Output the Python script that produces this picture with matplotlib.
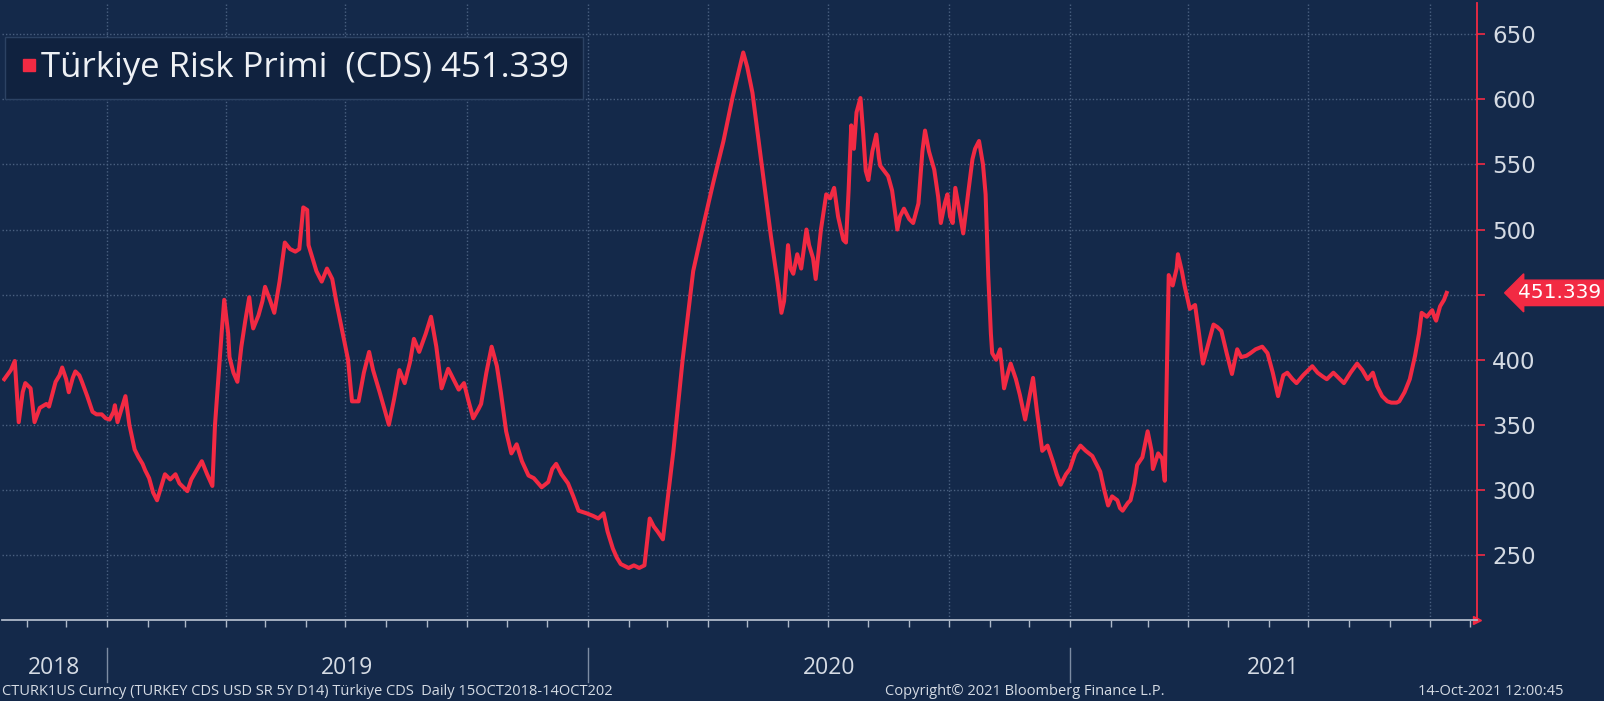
import pandas as pd
import matplotlib
matplotlib.use("Agg")
import matplotlib.pyplot as plt
import matplotlib.dates as mdates
import matplotlib.transforms as mtransforms
from matplotlib.lines import Line2D

# Türkiye 5Y CDS, okunan değerler (15 Ekim 2018'den itibaren gün sayısı)
baslangic = pd.Timestamp("2018-10-15")
gun = [0, 5, 8, 11, 14, 16, 20, 23, 27, 32, 34, 39, 42, 44, 47, 49, 52, 54, 57, 59,
       63, 67, 70, 74, 77, 80, 83, 84, 86, 89, 92, 95, 99, 102, 105, 107, 110, 113, 116, 119,
       122, 126, 130, 133, 139, 142, 146, 150, 154, 158, 160, 163, 165, 167, 170, 171, 174, 177, 180, 183,
       186, 188, 189, 193, 196, 198, 202, 205, 209, 213, 217, 221, 224, 227, 230, 231, 234, 237, 241,
       245, 249, 252, 256, 261, 264, 269, 273, 277, 280, 285, 292, 296, 300, 304, 308, 311, 315, 320,
       324, 328, 332, 337, 341, 345, 349, 352, 356, 360, 362, 366, 370, 374, 377,
       381, 385, 389, 393, 398, 402, 408, 413, 416, 419, 423, 428, 432, 436, 442, 447, 451, 455, 458,
       462, 465, 468, 474, 478, 482, 486, 490, 493, 496, 500, 508, 515, 523, 530, 538, 546, 553, 561,
       564, 568, 574, 582, 587, 590, 592, 595, 597, 599, 601, 602, 605, 609, 611, 614, 616, 620, 624,
       627, 630, 633, 637, 639, 641, 643, 645, 647, 650, 652, 654, 656, 659, 662, 664, 665, 668, 671,
       674, 678, 680, 683, 687, 690, 694, 697, 699, 702, 706, 709, 711, 714, 716, 718, 720, 722, 725,
       728, 732, 735, 737, 740, 743, 745, 747, 749, 750, 753, 756,
       759, 762, 764, 768, 771, 775, 778, 781, 784, 788, 792, 796, 799, 802, 806, 809, 813, 817, 821,
       826, 829, 832, 835, 838, 841, 845, 847, 849, 853, 855, 858, 860, 864, 868, 871, 872, 876, 879,
       881, 884, 887, 890, 891, 894, 896, 900, 904, 907, 910, 914, 918, 921, 924, 928, 932, 936, 939, 943,
       946, 950, 955, 959, 963, 967, 971, 974, 978, 981, 986, 990, 993, 997, 1001, 1004, 1009, 1013,
       1017, 1022, 1027, 1031, 1035, 1039, 1042, 1046, 1050, 1053, 1057, 1059, 1063, 1067, 1071, 1074,
       1076, 1080, 1084, 1086, 1087, 1090, 1093, 1095]
cds = [385, 392, 399, 352, 375, 382, 378, 352, 363, 366, 364, 383, 388, 394, 385, 375, 386, 391, 388, 383,
       372, 360, 358, 358, 355, 354, 360, 365, 352, 362, 372, 350, 331, 325, 320, 315, 309, 298, 292, 302,
       312, 308, 312, 305, 299, 308, 315, 322, 312, 303, 350, 392, 420, 446, 420, 402, 390, 383, 410, 430,
       448, 430, 424, 434, 445, 456, 445, 436, 460, 490, 485, 483, 485, 517, 515, 488, 478, 468, 460,
       470, 462, 445, 425, 400, 368, 368, 390, 406, 392, 375, 350, 370, 392, 382, 398, 416, 406, 420,
       433, 410, 378, 393, 385, 377, 382, 370, 355, 362, 366, 390, 410, 395, 375,
       345, 328, 335, 322, 311, 309, 302, 306, 316, 320, 312, 305, 295, 284, 282, 280, 278, 282, 268,
       255, 248, 243, 240, 242, 240, 242, 278, 272, 268, 262, 330, 400, 468, 500, 535, 568, 602, 636,
       625, 605, 558, 495, 460, 436, 445, 488, 470, 466, 476, 481, 470, 500, 488, 478, 462, 500, 527,
       524, 532, 510, 492, 490, 530, 580, 562, 590, 601, 575, 545, 538, 560, 573, 555, 549, 545, 541,
       530, 500, 510, 516, 508, 505, 520, 560, 576, 560, 546, 525, 505, 520, 527, 510, 505, 532, 515,
       497, 530, 554, 562, 568, 550, 527, 465, 420, 405, 400, 408,
       378, 390, 397, 385, 373, 354, 370, 386, 360, 330, 334, 322, 312, 304, 312, 316, 328, 334, 330,
       326, 320, 314, 300, 288, 295, 292, 286, 284, 290, 292, 305, 319, 325, 345, 330, 316, 328, 324,
       307, 465, 457, 470, 481, 468, 457, 439, 442, 420, 397, 412, 427, 425, 422, 405, 389, 408, 402, 403,
       405, 408, 410, 405, 390, 372, 388, 390, 385, 382, 388, 392, 395, 390, 387, 385, 390, 386,
       382, 390, 397, 392, 385, 390, 380, 372, 368, 367, 367, 368, 375, 385, 403, 420,
       436, 433, 438, 432, 430, 441, 446, 451.339]
tarih = baslangic + pd.to_timedelta(gun, unit="D")
son_deger = 451.339

yil_etiketleri = ["2018", "2019", "2020", "2021"]
y_ticks = [250, 300, 350, 400, 450, 500, 550, 600, 650]
y_tick_etiket = ["250", "300", "350", "400", "", "500", "550", "600", "650"]

arka = "#14294a"
kirmizi = "#f22a43"
acik = "#d5dbe4"

fig = plt.figure(figsize=(16.04, 7.01), dpi=100, facecolor=arka)
ax = fig.add_axes([0.001, 0.1155, 0.9198, 0.8802])
ax.set_facecolor(arka)

ax.plot(tarih, cds, color=kirmizi, lw=2.9, solid_joinstyle="round", zorder=3)

x0 = baslangic - pd.Timedelta(days=2)
x1 = baslangic + pd.Timedelta(days=1118)
ax.set_xlim(x0, x1)
ax.set_ylim(200, 674)

# eksenler
for s in ["top", "left"]:
    ax.spines[s].set_visible(False)
ax.spines["right"].set_color(kirmizi)
ax.spines["right"].set_linewidth(1.3)
ax.spines["bottom"].set_color("#aeb9c9")
ax.spines["bottom"].set_linewidth(1.3)

ax.yaxis.tick_right()
ax.set_yticks(y_ticks)
ax.set_yticklabels(y_tick_etiket)
ax.tick_params(axis="y", colors=kirmizi, length=6, width=1.2, labelcolor=acik,
               labelsize=16.5, pad=5)

ax.xaxis.set_major_locator(mdates.MonthLocator(bymonth=[1, 4, 7, 10]))
ax.xaxis.set_minor_locator(mdates.MonthLocator())
ax.tick_params(axis="x", which="both", colors="#aeb9c9", length=5, width=1,
               labelbottom=False)

ax.grid(True, which="major", color="#4a6080", linestyle=(0, (1, 1.5)), linewidth=1)

# eksen ucundaki küçük ok
ax.plot([1.0], [0.0], marker=">", color=kirmizi, markersize=6,
        transform=ax.transAxes, clip_on=False)

# yıl etiketleri ve ayraçlar
trans = mtransforms.blended_transform_factory(ax.transData, ax.transAxes)
xmin, xmax = mdates.date2num(x0), mdates.date2num(x1)
for yil in yil_etiketleri:
    a = max(mdates.date2num(pd.Timestamp(yil + "-01-01")), xmin)
    b = min(mdates.date2num(pd.Timestamp(str(int(yil) + 1) + "-01-01")), xmax)
    ax.text((a + b) / 2, -0.078, yil, transform=trans, ha="center", va="center",
            color=acik, fontsize=16.5, family="Open Sans")
    if yil != "2018":
        ax.plot([a, a], [-0.045, -0.1], transform=trans, color="#7d8ca3",
                lw=1, clip_on=False)

# son değer etiketi
ax.text(1.028, son_deger, f"{son_deger:.3f}",
        transform=mtransforms.blended_transform_factory(ax.transAxes, ax.transData),
        ha="left", va="center", color="white", fontsize=14.5,
        bbox=dict(boxstyle="larrow,pad=0.16", fc=kirmizi, ec=kirmizi), clip_on=False)

# gösterge
el = [Line2D([], [], marker="s", color=kirmizi, linestyle="None", markersize=8)]
leg = ax.legend(el, [f"Türkiye Risk Primi  (CDS) {son_deger:.3f}"], loc="upper left",
                bbox_to_anchor=(0.002, 0.945), borderaxespad=0, frameon=True, fancybox=False,
                handletextpad=0.05, handlelength=0.6, borderpad=0.4,
                prop={"family": "Open Sans", "size": 25})
leg.get_frame().set_facecolor("#10223f")
leg.get_frame().set_edgecolor("#2c4263")
leg.get_frame().set_alpha(1)
for t in leg.get_texts():
    t.set_color("#eef1f5")

# alt bilgi
fig.text(0.001, 0.003, "CTURK1US Curncy (TURKEY CDS USD SR 5Y D14) Türkiye CDS  Daily 15OCT2018-14OCT202",
         color=acik, fontsize=10.5, family="Open Sans", ha="left", va="bottom")
fig.text(0.639, 0.003, "Copyright© 2021 Bloomberg Finance L.P.", color=acik, fontsize=10.5,
         family="Open Sans", ha="center", va="bottom")
fig.text(0.975, 0.003, "14-Oct-2021 12:00:45", color=acik, fontsize=10.5,
         family="Open Sans", ha="right", va="bottom")

fig.savefig("out.png", dpi=100, facecolor=arka)
